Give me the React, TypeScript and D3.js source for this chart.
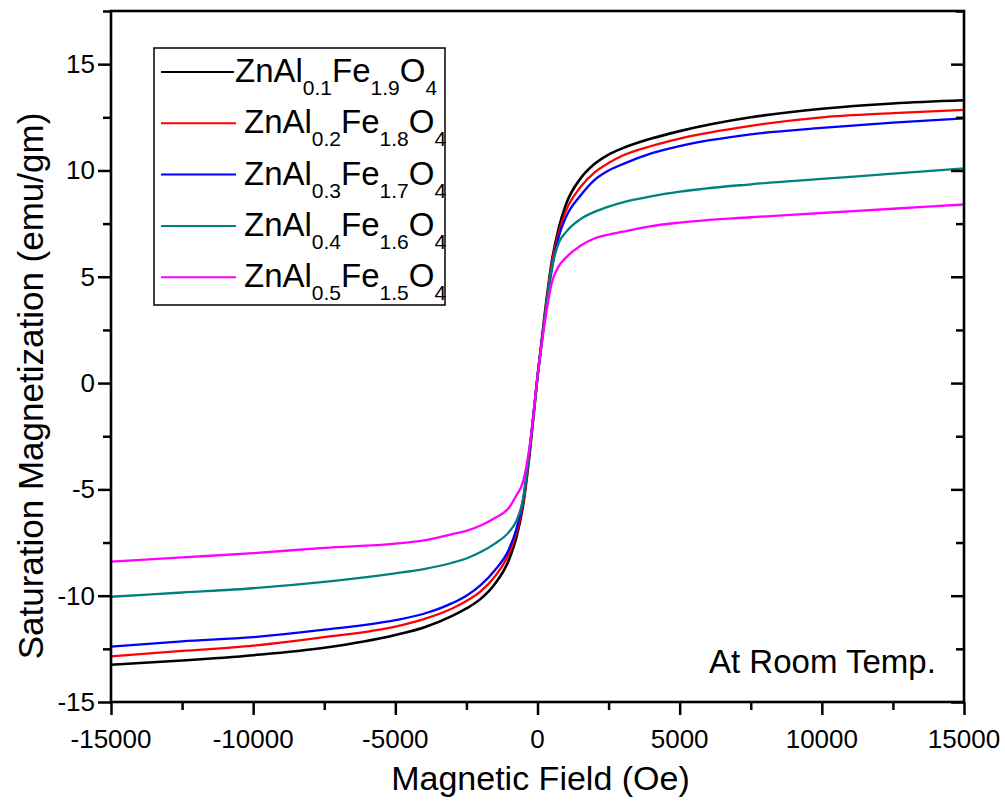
import React, { useEffect, useRef } from "react";
import * as d3 from "d3";

// field values (Oe), shared by all series
const fieldOe = [
  -15000, -12500, -10000, -7500, -5000, -4000, -3000, -2500, -2000, -1500, -1000, -750, -500, -250, 0,
  250, 500, 750, 1000, 1500, 2000, 2500, 3000, 4000, 5000, 7500, 10000, 12500, 15000,
];

// magnetization (emu/gm)
const al01 = [
  -13.25, -13.05, -12.8, -12.45, -11.85, -11.5, -10.95, -10.6, -10.15, -9.45, -8.3, -7.3, -5.7, -3.0, 0.3,
  3.2, 5.7, 7.3, 8.4, 9.6, 10.3, 10.75, 11.05, 11.5, 11.85, 12.5, 12.9, 13.15, 13.3,
];
const al02 = [
  -12.85, -12.6, -12.35, -11.95, -11.45, -11.1, -10.6, -10.25, -9.8, -9.1, -8.0, -7.1, -5.6, -2.9, 0.3,
  3.1, 5.6, 7.1, 8.1, 9.2, 9.9, 10.35, 10.7, 11.15, 11.5, 12.1, 12.5, 12.7, 12.85,
];
const al03 = [
  -12.4, -12.15, -11.95, -11.6, -11.15, -10.85, -10.35, -10.0, -9.5, -8.8, -7.8, -6.9, -5.4, -2.8, 0.3,
  3.0, 5.3, 6.9, 7.8, 8.8, 9.55, 10.0, 10.3, 10.8, 11.15, 11.7, 12.0, 12.25, 12.45,
];
const al04 = [
  -10.05, -9.85, -9.65, -9.35, -8.95, -8.75, -8.45, -8.25, -7.95, -7.55, -7.0, -6.5, -5.4, -2.8, 0.3,
  3.0, 5.4, 6.6, 7.1, 7.7, 8.05, 8.3, 8.5, 8.78, 9.0, 9.35, 9.6, 9.85, 10.1,
];
const al05 = [
  -8.4, -8.2, -8.0, -7.75, -7.55, -7.4, -7.1, -6.95, -6.7, -6.35, -5.85, -5.3, -4.6, -2.7, 0.3,
  2.8, 4.7, 5.5, 5.9, 6.45, 6.8, 6.98, 7.12, 7.38, 7.55, 7.8, 8.0, 8.2, 8.4,
];

// legend subscripts: [Al, Fe]
const seriesNames = [
  ["0.1", "1.9"],
  ["0.2", "1.8"],
  ["0.3", "1.7"],
  ["0.4", "1.6"],
  ["0.5", "1.5"],
];
const seriesColors = ["#000000", "#ff0000", "#0000ff", "#008080", "#ff00ff"];
const seriesValues = [al01, al02, al03, al04, al05];

const xTicks = [-15000, -10000, -5000, 0, 5000, 10000, 15000];
const yTicks = [-15, -10, -5, 0, 5, 10, 15];

const W = 1005;
const H = 803;
const font = "'Liberation Sans', Arial, sans-serif";

export default function App() {
  const ref = useRef<SVGSVGElement | null>(null);

  useEffect(() => {
    const svg = d3.select(ref.current);
    svg.selectAll("*").remove();

    const left = 111,
      right = 964,
      top = 11,
      bottom = 702;

    const x = d3.scaleLinear().domain([-15000, 15000]).range([left, right]);
    const y = d3.scaleLinear().domain([-15, 17.5]).range([bottom, top]);

    const line = d3
      .line<number>()
      .x((_, i) => x(fieldOe[i]))
      .y((d) => y(d))
      .curve(d3.curveMonotoneX);

    // curves
    seriesValues.forEach((vals, k) => {
      svg
        .append("path")
        .datum(vals)
        .attr("fill", "none")
        .attr("stroke", seriesColors[k])
        .attr("stroke-width", k === 0 ? 2.6 : 2.3)
        .attr("d", line);
    });

    // bottom axis, outward ticks
    const xAxis = svg
      .append("g")
      .attr("transform", `translate(0,${bottom})`)
      .call(
        d3
          .axisBottom(x)
          .tickValues(d3.range(-15000, 15001, 2500))
          .tickSize(8)
          .tickFormat(() => "")
      );
    xAxis.selectAll(".tick line").attr("stroke-width", 2.5).attr("y2", (d: any) => (d % 5000 === 0 ? 13 : 8));
    xAxis.select(".domain").remove();
    xAxis
      .selectAll(".xlab")
      .data(xTicks)
      .enter()
      .append("text")
      .attr("x", (d) => x(d))
      .attr("y", 46)
      .attr("text-anchor", "middle")
      .attr("font-family", font)
      .attr("font-size", 26)
      .attr("fill", "#000")
      .text((d) => String(d));

    // left axis, outward ticks
    const yAxis = svg
      .append("g")
      .attr("transform", `translate(${left},0)`)
      .call(
        d3
          .axisLeft(y)
          .tickValues(d3.range(-15, 17.6, 2.5))
          .tickSize(8)
          .tickFormat(() => "")
      );
    yAxis.selectAll(".tick line").attr("stroke-width", 2.5).attr("x2", (d: any) => (d % 5 === 0 ? -13 : -8));
    yAxis.select(".domain").remove();
    yAxis
      .selectAll(".ylab")
      .data(yTicks)
      .enter()
      .append("text")
      .attr("x", -16)
      .attr("y", (d) => y(d) + 9)
      .attr("text-anchor", "end")
      .attr("font-family", font)
      .attr("font-size", 26)
      .attr("fill", "#000")
      .text((d) => String(d));

    // right axis, inward ticks
    const rAxis = svg
      .append("g")
      .attr("transform", `translate(${right},0)`)
      .call(
        d3
          .axisLeft(y)
          .tickValues(d3.range(-15, 17.6, 2.5))
          .tickSize(8)
          .tickFormat(() => "")
      );
    rAxis.selectAll(".tick line").attr("stroke-width", 2.5).attr("x2", (d: any) => (d % 5 === 0 ? -13 : -8));
    rAxis.select(".domain").remove();

    // frame
    svg
      .append("rect")
      .attr("x", left)
      .attr("y", top)
      .attr("width", right - left)
      .attr("height", bottom - top)
      .attr("fill", "none")
      .attr("stroke", "#000")
      .attr("stroke-width", 2.6);

    // axis titles
    svg
      .append("text")
      .attr("x", (left + right) / 2 + 3)
      .attr("y", 790)
      .attr("text-anchor", "middle")
      .attr("font-family", font)
      .attr("font-size", 34)
      .text("Magnetic Field (Oe)");
    svg
      .append("text")
      .attr("transform", `translate(43,386) rotate(-90)`)
      .attr("text-anchor", "middle")
      .attr("font-family", font)
      .attr("font-size", 35)
      .text("Saturation Magnetization (emu/gm)");

    svg
      .append("text")
      .attr("x", 709)
      .attr("y", 673)
      .attr("font-family", font)
      .attr("font-size", 33)
      .text("At Room Temp.");

    // legend
    const lg = svg.append("g");
    lg.append("rect")
      .attr("x", 154)
      .attr("y", 48)
      .attr("width", 291)
      .attr("height", 257)
      .attr("fill", "#fff")
      .attr("stroke", "#000")
      .attr("stroke-width", 1.5);

    seriesNames.forEach((nm, k) => {
      const cy = 72 + k * 51.3;
      lg.append("line")
        .attr("x1", 161)
        .attr("x2", k === 0 ? 234 : 236)
        .attr("y1", cy)
        .attr("y2", cy)
        .attr("stroke", seriesColors[k])
        .attr("stroke-width", 2);
      const t = lg
        .append("text")
        .attr("x", k === 0 ? 235 : 244)
        .attr("y", cy + 10)
        .attr("font-family", font)
        .attr("font-size", 33)
        .attr("fill", "#000");
      t.append("tspan").text("ZnAl");
      t.append("tspan").attr("dy", 13).attr("font-size", 21).text(nm[0]);
      t.append("tspan").attr("dy", -13).text("Fe");
      t.append("tspan").attr("dy", 13).attr("font-size", 21).text(nm[1]);
      t.append("tspan").attr("dy", -13).text("O");
      t.append("tspan").attr("dy", 13).attr("font-size", 21).text("4");
    });
  }, []);

  return (
    <svg
      ref={ref}
      width={W}
      height={H}
      style={{ position: "absolute", left: 0, top: 0, background: "#fff", display: "block" }}
    />
  );
}
